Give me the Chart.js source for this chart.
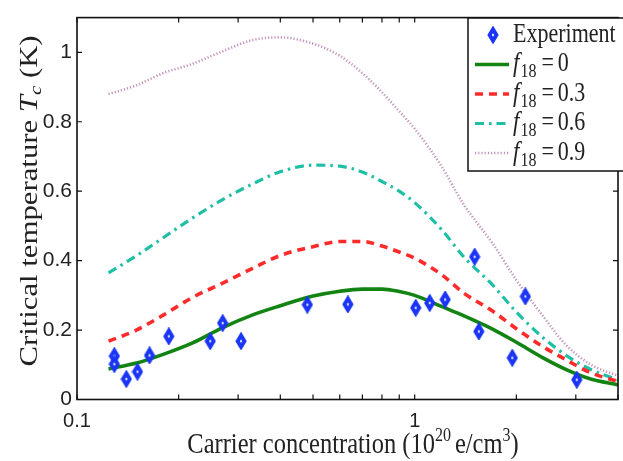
<!DOCTYPE html>
<html><head><meta charset="utf-8">
<script src="https://cdn.jsdelivr.net/npm/chart.js@4/dist/chart.umd.min.js"></script>
<style>
html,body{margin:0;padding:0;background:#fff;overflow:hidden;width:623px;height:461px}
#wrap{position:relative;width:628px;height:461px}
</style>
</head><body><div id="wrap"><canvas id="c" width="628" height="461"></canvas></div>
<script>
// ---- data ----
const expX = [0.129, 0.129, 0.140, 0.151, 0.164, 0.187, 0.248, 0.270, 0.306, 0.481, 0.634, 1.007, 1.108, 1.231, 1.505, 1.549, 1.945, 2.127, 3.02];
const expY = [0.125, 0.102, 0.059, 0.080, 0.127, 0.182, 0.168, 0.220, 0.168, 0.273, 0.274, 0.264, 0.278, 0.288, 0.411, 0.196, 0.120, 0.297, 0.057];
const curveX = [0.124, 0.15, 0.18, 0.22, 0.27, 0.33, 0.4, 0.5, 0.6, 0.7, 0.8, 0.9, 1.0, 1.2, 1.4, 1.7, 2.0, 2.4, 2.8, 3.3, 4.0];
const tcF0  = [0.088,0.105,0.130,0.163,0.207,0.243,0.270,0.298,0.312,0.318,0.318,0.311,0.300,0.268,0.241,0.203,0.165,0.120,0.087,0.060,0.042];
const tcF03 = [0.168,0.200,0.243,0.294,0.335,0.377,0.415,0.440,0.455,0.455,0.442,0.425,0.407,0.360,0.306,0.255,0.204,0.152,0.115,0.078,0.052];
const tcF06 = [0.365,0.414,0.466,0.523,0.576,0.620,0.656,0.675,0.672,0.655,0.628,0.600,0.567,0.490,0.410,0.330,0.252,0.178,0.128,0.088,0.056];
const tcF09 = [0.880,0.905,0.940,0.967,1.003,1.035,1.043,1.025,0.990,0.940,0.885,0.830,0.780,0.672,0.560,0.450,0.344,0.240,0.158,0.102,0.068];
const fValues = ['0', '0.3', '0.6', '0.9'];
const expLabel = 'Experiment';
const xTickValues = [0.1,0.2,0.3,0.4,0.5,0.6,0.7,0.8,0.9,1,2,3,4];
const xTickLabels = ['0.1', '1'];
const yTickLabels = ['0', '0.2', '0.4', '0.6', '0.8', '1'];

// ---- styles ----
const SERIF = '"Liberation Serif", "Times New Roman", serif';
const SANS = '"Liberation Sans", Arial, sans-serif';
const STRETCH = 1.2;

function diamondImg() {
  const c = document.createElement('canvas'); c.width = 12; c.height = 18;
  const g = c.getContext('2d');
  g.fillStyle = '#1a35f5'; g.strokeStyle = '#1a35f5'; g.lineWidth = 1.5;
  g.beginPath(); g.moveTo(6, 1); g.lineTo(10.8, 9); g.lineTo(6, 17); g.lineTo(1.2, 9); g.closePath();
  g.fill(); g.stroke();
  g.fillStyle = '#ffffff';
  g.beginPath(); g.moveTo(6, 7.3); g.lineTo(7.2, 9); g.lineTo(6, 10.7); g.lineTo(4.8, 9); g.closePath(); g.fill();
  return c;
}
const diamond = diamondImg();

const pts = (xs, ys) => xs.map((x, i) => ({x: x, y: ys[i]}));
const lineStyles = [
  {color: '#138413', width: 3.6, dash: []},
  {color: '#ff2b2b', width: 3.6, dash: [8, 6]},
  {color: '#1fbfa6', width: 3.2, dash: [9, 5, 2.5, 5]},
  {color: '#c293bb', width: 2.6, dash: [1.2, 2.0]}
];
const curves = [tcF0, tcF03, tcF06, tcF09];

const datasets = [{
  label: expLabel, data: pts(expX, expY), showLine: false,
  pointStyle: diamond, pointRadius: 6, pointHoverRadius: 6,
  borderColor: '#1a35f5', backgroundColor: '#1a35f5'
}].concat(curves.map((c, i) => ({
  label: 'f18 = ' + fValues[i], data: pts(curveX, c),
  borderColor: lineStyles[i].color, borderWidth: lineStyles[i].width,
  borderDash: lineStyles[i].dash, pointRadius: 0, fill: false,
  cubicInterpolationMode: 'monotone', borderCapStyle: 'butt'
})));

// parts: {t, f, dy, gap}; draws with vertical stretch sy about the baseline
function drawParts(ctx, parts, x, y, align, sy) {
  let w = 0;
  parts.forEach(p => {
    if (p.gap) { p.w = p.gap; } else { ctx.font = p.f; p.w = ctx.measureText(p.t).width; }
    w += p.w;
  });
  ctx.save();
  ctx.translate(align === 'center' ? x - w / 2 : x, y);
  ctx.scale(1, sy || 1);
  let cx = 0;
  parts.forEach(p => {
    if (!p.gap) { ctx.font = p.f; ctx.fillText(p.t, cx, (p.dy || 0)); }
    cx += p.w;
  });
  ctx.restore();
}

const decor = {
  id: 'decor',
  afterDraw(chart) {
    const ctx = chart.ctx, a = chart.chartArea, xs = chart.scales.x, ys = chart.scales.y;
    ctx.save();
    // frame
    ctx.strokeStyle = '#111'; ctx.lineWidth = 1.6;
    ctx.strokeRect(a.left, a.top, a.right - a.left, a.bottom - a.top);
    // inward ticks
    ctx.lineWidth = 1.2; ctx.beginPath();
    xs.ticks.forEach(t => {
      const p = xs.getPixelForValue(t.value);
      ctx.moveTo(p, a.bottom); ctx.lineTo(p, a.bottom - 5);
      ctx.moveTo(p, a.top); ctx.lineTo(p, a.top + 5);
    });
    ys.ticks.forEach(t => {
      const p = ys.getPixelForValue(t.value);
      ctx.moveTo(a.left, p); ctx.lineTo(a.left + 5, p);
      ctx.moveTo(a.right, p); ctx.lineTo(a.right - 5, p);
    });
    ctx.stroke();

    // axis titles
    ctx.fillStyle = '#222'; ctx.textBaseline = 'alphabetic';
    drawParts(ctx, [
      {t: 'Carrier concentration (10', f: '24.5px ' + SERIF},
      {t: '20', f: '16px ' + SERIF, dy: -10},
      {gap: 4},
      {t: 'e/cm', f: '24.5px ' + SERIF},
      {t: '3', f: '16px ' + SERIF, dy: -10},
      {t: ')', f: '24.5px ' + SERIF}
    ], 353, 453, 'center', STRETCH);
    ctx.save();
    ctx.translate(36.5, 201); ctx.rotate(-Math.PI / 2); ctx.scale(1.23, 1);
    drawParts(ctx, [
      {t: 'Critical temperature ', f: '25px ' + SERIF},
      {t: 'T', f: 'italic 25px ' + SERIF},
      {t: 'c', f: 'italic 17px ' + SERIF, dy: 4},
      {t: ' (K)', f: '25px ' + SERIF}
    ], 0, 0, 'center', 1);
    ctx.restore();

    // legend
    const bx = 468, by = 18, bw = 170, bh = 153;
    ctx.fillStyle = '#fff'; ctx.fillRect(bx, by, bw, bh);
    ctx.strokeStyle = '#111'; ctx.lineWidth = 1.5; ctx.strokeRect(bx, by, bw, bh);
    ctx.fillStyle = '#222'; ctx.textBaseline = 'alphabetic';
    chart.data.datasets.forEach((ds, i) => {
      const ry = by + 17 + i * 29.5;
      if (i === 0) {
        ctx.drawImage(diamond, 493 - 6, ry - 9);
        drawParts(ctx, [{t: ds.label, f: '22px ' + SERIF}], 513, ry + 6.5, 'left', STRETCH);
      } else {
        ctx.save();
        ctx.strokeStyle = ds.borderColor; ctx.lineWidth = ds.borderWidth;
        ctx.setLineDash(ds.borderDash);
        ctx.beginPath(); ctx.moveTo(475, ry); ctx.lineTo(509, ry); ctx.stroke();
        ctx.restore();
        drawParts(ctx, [
          {t: 'f', f: 'italic 23px ' + SERIF},
          {gap: 1},
          {t: '18', f: '16px ' + SERIF, dy: 5},
          {gap: 5},
          {t: '=', f: '22px ' + SERIF},
          {gap: 4},
          {t: fValues[i - 1], f: '22px ' + SERIF}
        ], 513, ry + 6.5, 'left', STRETCH);
      }
    });
    ctx.restore();
  }
};

new Chart(document.getElementById('c'), {
  type: 'line',
  data: {datasets: datasets},
  plugins: [decor],
  options: {
    responsive: false, animation: false, devicePixelRatio: 1,
    layout: {padding: {top: 6, left: 0, right: 0, bottom: 0}},
    plugins: {legend: {display: false}, tooltip: {enabled: false}},
    scales: {
      x: {
        type: 'logarithmic', min: 0.1, max: 4,
        grid: {display: false, drawTicks: false}, border: {display: false},
        afterBuildTicks(s) { s.ticks = xTickValues.map(v => ({value: v})); },
        afterFit(s) { s.height = 61.5; },
        ticks: {
          autoSkip: false, maxRotation: 0, minRotation: 0, padding: 10, color: '#222',
          font: {family: SANS, size: 20},
          callback: (v) => xTickLabels.find(l => Math.abs(Number(l) - v) < 1e-9) || ''
        }
      },
      y: {
        min: 0, max: 1.1,
        grid: {display: false, drawTicks: false}, border: {display: false},
        afterBuildTicks(s) { s.ticks = yTickLabels.map(l => ({value: Number(l)})); },
        afterFit(s) { s.width = 77; },
        ticks: {
          padding: 5, color: '#222', font: {family: SANS, size: 21},
          callback: (v) => yTickLabels.find(l => Math.abs(Number(l) - v) < 1e-9) || ''
        }
      }
    }
  }
});
</script>
</body></html>
